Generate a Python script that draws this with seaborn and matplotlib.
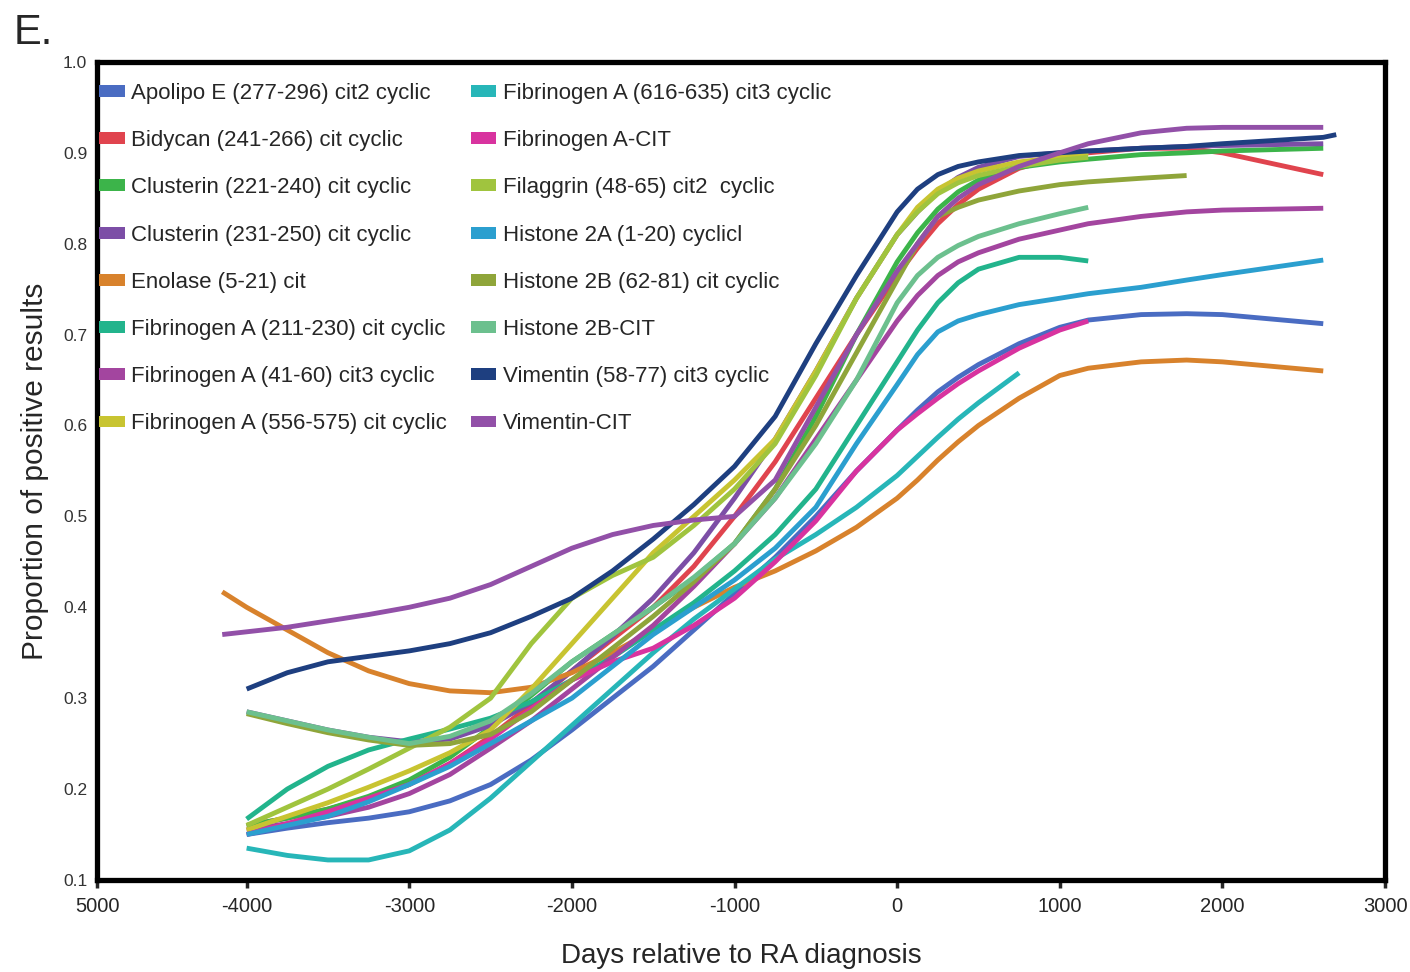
import seaborn as sns
import pandas as pd
import numpy as np
import matplotlib
matplotlib.use("Agg")
import matplotlib.pyplot as plt
from matplotlib.patches import Patch

# ========= data =========
N = np.nan
days = [-4150, -4000, -3750, -3500, -3250, -3000, -2750, -2500, -2250, -2000, -1750,
        -1500, -1250, -1000, -750, -500, -250, 0, 125, 250, 375, 500, 750, 1000,
        1175, 1500, 1780, 2000, 2620, 2700]

apolipo = [N, .150, .157, .163, .168, .175, .187, .205, .232, .265, .30, .335, .375, .415, .455,
           .50, .55, .595, .617, .637, .653, .667, .69, .708, .716, .722, .723, .722, .712, N]
bidycan = [N, .160, .168, .178, .19, .205, .228, .258, .293, .33, .365, .40, .445, .50, .56,
           .63, .70, .765, .795, .822, .843, .86, .883, .895, .90, .905, .905, .90, .876, N]
clus221 = [N, .16, .168, .178, .192, .21, .235, .268, .303, .34, .37, .40, .432, .47, .53,
           .61, .70, .78, .812, .838, .857, .87, .884, .89, .893, .898, .90, .902, .905, N]
clus231 = [N, .285, .275, .265, .257, .252, .255, .27, .295, .33, .368, .41, .46, .52, .585,
           .66, .74, .81, .835, .857, .873, .884, .896, .90, .902, .905, .907, .908, .91, N]
enolase = [.417, .40, .375, .35, .33, .316, .308, .306, .312, .328, .35, .375, .40, .422, .44,
           .462, .488, .52, .54, .562, .582, .60, .63, .655, .663, .67, .672, .67, .66, N]
fib211 = [N, .167, .20, .225, .243, .255, .266, .278, .296, .32, .345, .375, .405, .44, .48,
          .53, .60, .67, .705, .735, .757, .772, .785, .785, .781, N, N, N, N, N]
fib41 = [N, .155, .162, .17, .18, .195, .216, .245, .275, .31, .345, .38, .423, .47, .52,
         .585, .65, .715, .743, .765, .78, .79, .805, .815, .822, .83, .835, .837, .839, N]
fib556 = [N, .155, .17, .185, .202, .22, .24, .265, .31, .36, .41, .46, .50, .54, .585,
          .66, .74, .81, .84, .86, .872, .88, .89, .895, .90, N, N, N, N, N]
fib616 = [N, .135, .127, .122, .122, .132, .155, .19, .23, .27, .31, .35, .387, .42, .453,
          .48, .51, .545, .566, .587, .607, .625, .658, N, N, N, N, N, N, N]
fibcit = [N, .150, .162, .175, .19, .205, .228, .255, .288, .32, .34, .355, .38, .41, .45,
          .495, .55, .595, .613, .63, .646, .66, .685, .705, .715, N, N, N, N, N]
filaggrin = [N, .16, .18, .20, .222, .245, .268, .30, .36, .41, .435, .455, .49, .53, .58,
             .655, .74, .81, .835, .855, .867, .875, .885, .892, .895, N, N, N, N, N]
h2a = [N, .15, .16, .17, .186, .205, .225, .25, .275, .30, .335, .37, .40, .43, .465,
       .51, .58, .645, .678, .703, .715, .722, .733, .74, .745, .752, .76, .766, .782, N]
h2b62 = [N, .283, .272, .262, .254, .248, .25, .26, .285, .32, .355, .39, .428, .47, .53,
         .60, .68, .76, .80, .83, .84, .848, .858, .865, .868, .872, .875, N, N, N]
h2bcit = [N, .285, .275, .265, .257, .25, .258, .275, .305, .34, .37, .40, .433, .47, .52,
          .58, .65, .735, .765, .785, .798, .808, .822, .833, .84, N, N, N, N, N]
vim58 = [N, .31, .328, .34, .346, .352, .36, .372, .39, .41, .44, .475, .513, .555, .61,
         .69, .765, .835, .86, .876, .885, .89, .897, .90, .902, .905, .907, .91, .917, .92]
vimcit = [.37, .373, .378, .385, .392, .40, .41, .425, .445, .465, .48, .49, .496, .50, .54,
          .62, .70, .77, .80, .83, .85, .865, .885, .90, .91, .922, .927, .928, .928, N]

names = ["Apolipo E (277-296) cit2 cyclic", "Bidycan (241-266) cit cyclic",
         "Clusterin (221-240) cit cyclic", "Clusterin (231-250) cit cyclic",
         "Enolase (5-21) cit", "Fibrinogen A (211-230) cit cyclic",
         "Fibrinogen A (41-60) cit3 cyclic", "Fibrinogen A (556-575) cit cyclic",
         "Fibrinogen A (616-635) cit3 cyclic", "Fibrinogen A-CIT",
         "Filaggrin (48-65) cit2  cyclic", "Histone 2A (1-20) cyclicl",
         "Histone 2B (62-81) cit cyclic", "Histone 2B-CIT",
         "Vimentin (58-77) cit3 cyclic", "Vimentin-CIT"]
series = [apolipo, bidycan, clus221, clus231, enolase, fib211, fib41, fib556,
          fib616, fibcit, filaggrin, h2a, h2b62, h2bcit, vim58, vimcit]
colors = ["#4a6cc2", "#e0444e", "#3cb44a", "#7c4ea6", "#d8822c", "#22b48c",
          "#a3459f", "#c8c431", "#27b6b8", "#d8339f", "#a0c43e", "#2b9fcf",
          "#8fa53a", "#6cc08e", "#1e3f80", "#9250a8"]
# ==============================================

frames = []
for name, vals in zip(names, series):
    frames.append(pd.DataFrame({"days": days, "prop": vals, "antigen": name}))
df = pd.concat(frames).dropna()

sns.set_style("white")
plt.rcParams["font.family"] = ["Liberation Sans", "DejaVu Sans"]

fig = plt.figure(figsize=(14.1, 9.72), dpi=100)
ax = fig.add_axes([0.0688, 0.0947, 0.9135, 0.8416])

sns.lineplot(data=df, x="days", y="prop", hue="antigen", hue_order=names,
             palette=dict(zip(names, colors)), estimator=None, lw=3.5,
             legend=False, ax=ax, solid_capstyle="butt", solid_joinstyle="round")

ax.set_xlim(-4920, 3000)
ax.set_ylim(0.1, 1.0)
ax.set_xticks([-4920, -4000, -3000, -2000, -1000, 0, 1000, 2000, 3000])
ax.set_xticklabels(["5000", "-4000", "-3000", "-2000", "-1000", "0", "1000", "2000", "3000"])
ax.set_yticks(np.round(np.arange(0.1, 1.01, 0.1), 1))
ax.set_yticklabels(["0.1", "0.2", "0.3", "0.4", "0.5", "0.6", "0.7", "0.8", "0.9", "1.0"])
ax.tick_params(axis="x", direction="out", length=6, width=2.5, labelsize=14.5, pad=6, bottom=True)
ax.tick_params(axis="y", length=0, labelsize=12.5, pad=7, labelcolor="#333333")
for s in ax.spines.values():
    s.set_linewidth(3.8)
    s.set_color("black")

ax.set_xlabel("Days relative to RA diagnosis", fontsize=20, labelpad=20)
ax.set_ylabel("Proportion of positive results", fontsize=21.5, labelpad=10)

handles = [Patch(facecolor=c, edgecolor="none") for c in colors]
ax.legend(handles, names, ncol=2, loc="upper left", bbox_to_anchor=(-0.007, 0.988),
          frameon=False, fontsize=16, handlelength=1.15, handleheight=0.45,
          labelspacing=1.18, columnspacing=1.05, handletextpad=0.3, borderaxespad=0.1)

fig.text(0.01, 0.955, "E.", fontsize=30)

fig.savefig("out.png", dpi=100)
